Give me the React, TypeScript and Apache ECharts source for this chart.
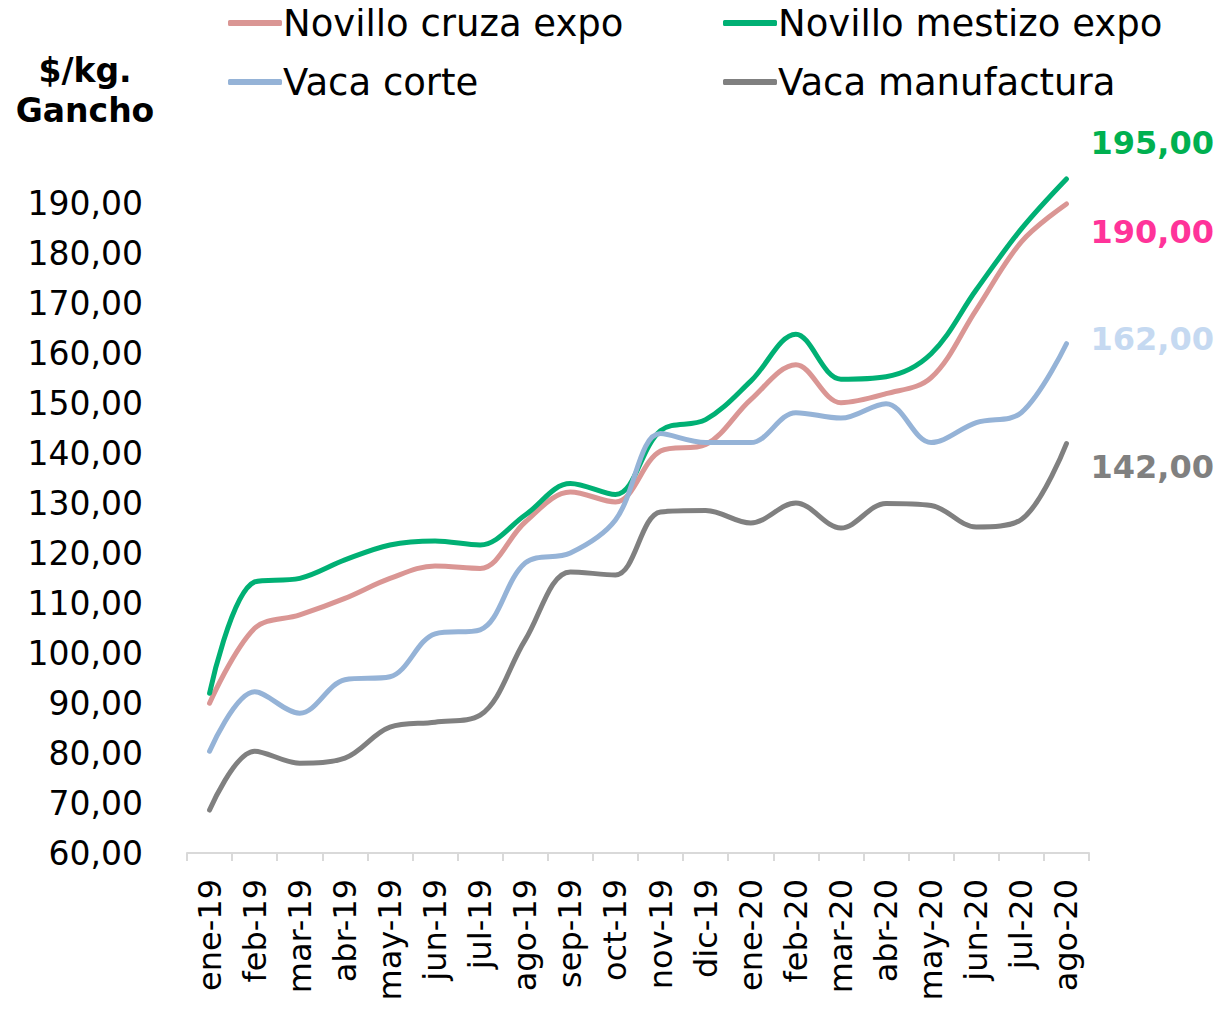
import React, { useEffect, useRef } from "react";
import * as echarts from "echarts";

const categories = [
  "ene-19", "feb-19", "mar-19", "abr-19", "may-19", "jun-19", "jul-19", "ago-19", "sep-19", "oct-19",
  "nov-19", "dic-19", "ene-20", "feb-20", "mar-20", "abr-20", "may-20", "jun-20", "jul-20", "ago-20",
];

const novilloCruza = [90, 105, 107.7, 111, 115, 117.5, 117, 126.3, 132.3, 130.3, 140.5, 141.8, 150.8, 157.8, 150.2, 152, 155.2, 168.8, 182.4, 190];
const novilloMestizo = [92, 114.3, 115, 118.7, 121.7, 122.5, 121.7, 127.7, 134, 131.8, 144.6, 146.8, 154.5, 163.9, 154.9, 155.4, 160, 172.8, 185, 195];
const vacaCorte = [80.4, 92.3, 88, 94.7, 95.3, 103.9, 104.7, 118.1, 120.1, 126.7, 144, 142.2, 142.2, 148.2, 147.1, 150, 142.2, 146.2, 148.2, 162];
const vacaManufactura = [68.6, 80.4, 78, 79, 85.2, 86.2, 87.6, 102.7, 116.3, 115.7, 128.3, 128.6, 126.1, 130.1, 125.1, 130, 129.6, 125.3, 126.8, 142];

const seriesNames = ["Novillo cruza expo", "Novillo mestizo expo", "Vaca corte", "Vaca manufactura"];

const FONT = "DejaVu Sans";

const fmt = (v: number) => v.toFixed(2).replace(".", ",");

export default function App() {
  const ref = useRef<HTMLDivElement>(null);
  useEffect(() => {
    const chart = echarts.init(ref.current!, null, { renderer: "svg" });
    const mk = (name: string, data: number[], color: string, labelColor: string, offset: number[]) => ({
      name,
      type: "line",
      data,
      smooth: 0.35,
      symbol: "none",
      lineStyle: { color, width: 5, cap: "round" },
      itemStyle: { color },
      endLabel: {
        show: true,
        formatter: (p: any) => fmt(p.value),
        color: labelColor,
        fontFamily: FONT,
        fontWeight: "bold",
        fontSize: 32,
        offset,
      },
    });
    const legendText = { fontFamily: FONT, fontSize: 37, color: "#000", lineHeight: 40, padding: [0, 0, 0, -4] };
    chart.setOption({
      animation: false,
      grid: { left: 187, right: 135, top: 154, bottom: 163 },
      legend: [
        {
          left: 223,
          top: -2,
          orient: "vertical",
          itemGap: 19,
          itemWidth: 54,
          itemHeight: 6,
          icon: "roundRect",
          data: [seriesNames[0], seriesNames[2]],
          textStyle: legendText,
        },
        {
          left: 718,
          top: -2,
          orient: "vertical",
          itemGap: 19,
          itemWidth: 54,
          itemHeight: 6,
          icon: "roundRect",
          data: [seriesNames[1], seriesNames[3]],
          textStyle: legendText,
        },
      ],
      graphic: [
        {
          type: "text",
          x: 85,
          y: 50,
          style: {
            text: "$/kg.\nGancho",
            font: `bold 33px ${FONT}`,
            fill: "#000",
            align: "center",
            verticalAlign: "top",
            lineHeight: 40,
          },
        },
      ],
      xAxis: {
        type: "category",
        data: categories,
        boundaryGap: true,
        axisLine: { lineStyle: { color: "#D9D9D9", width: 2 } },
        axisTick: { show: true, length: 8, lineStyle: { color: "#D9D9D9", width: 2 } },
        axisLabel: {
          rotate: 90,
          interval: 0,
          margin: 26,
          fontFamily: FONT,
          fontSize: 32,
          color: "#000",
        },
      },
      yAxis: {
        type: "value",
        min: 60,
        max: 200,
        interval: 10,
        splitLine: { show: false },
        axisLine: { show: false },
        axisTick: { show: false },
        axisLabel: {
          margin: 44,
          fontFamily: FONT,
          fontSize: 33,
          color: "#000",
          formatter: (v: number) => (v >= 200 ? "" : fmt(v)),
        },
      },
      series: [
        mk(seriesNames[0], novilloCruza, "#DA9694", "#FF3399", [16, 28]),
        mk(seriesNames[1], novilloMestizo, "#00B074", "#00B050", [16, -36]),
        mk(seriesNames[2], vacaCorte, "#95B3D7", "#C5D9F1", [16, -5]),
        mk(seriesNames[3], vacaManufactura, "#808080", "#808080", [16, 23]),
      ],
    });
    return () => chart.dispose();
  }, []);
  return <div ref={ref} style={{ width: 1224, height: 1016, margin: -8 }} />;
}
